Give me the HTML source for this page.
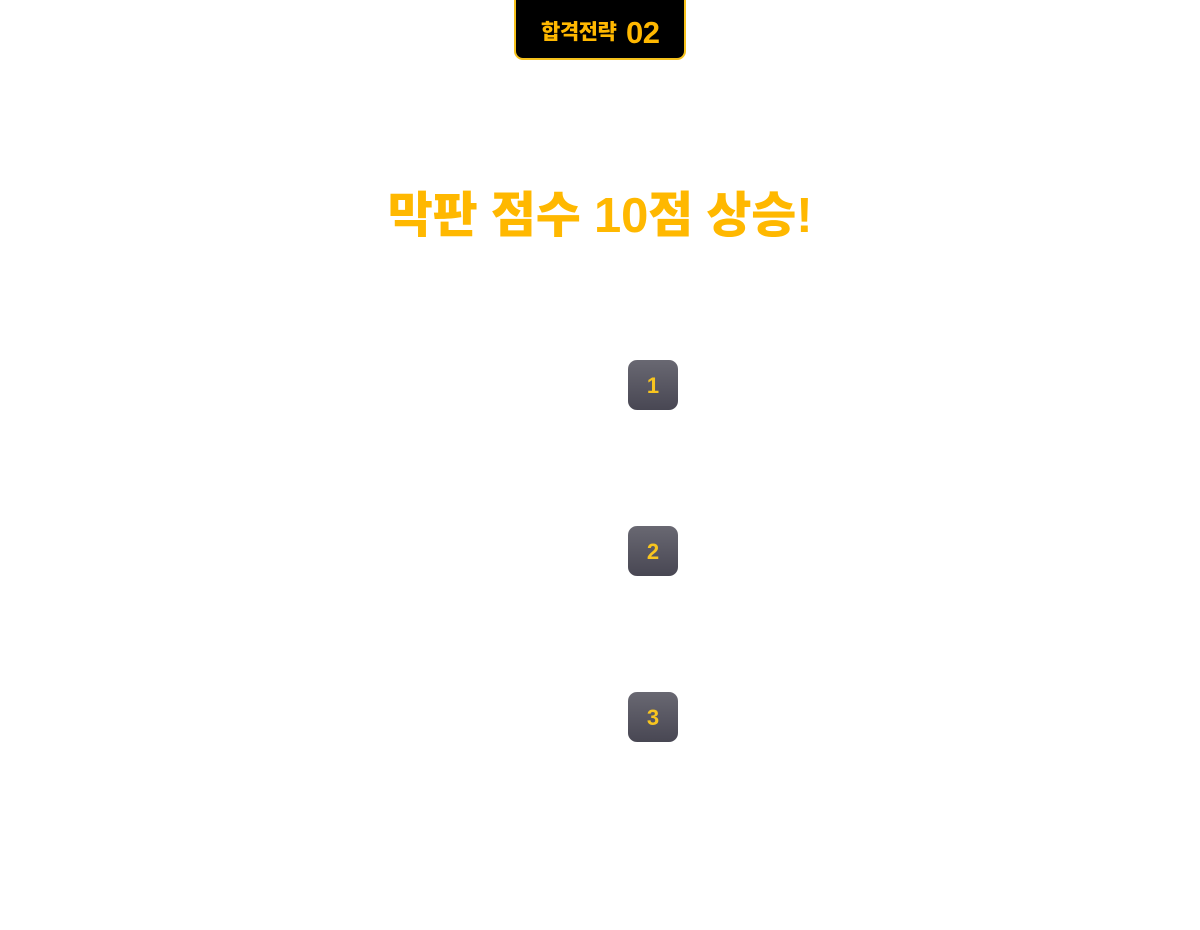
<!DOCTYPE html>
<html><head><meta charset="utf-8"><style>
html,body{margin:0;padding:0;background:#fff;}
body{width:1200px;height:930px;position:relative;overflow:hidden;font-family:"Liberation Sans","Noto Sans CJK KR",sans-serif;}
.badge{position:absolute;left:514px;top:-12px;width:168px;height:68px;background:#000;border:2px solid #f5c11d;border-radius:9px;box-sizing:content-box;}
.badge .t{position:absolute;left:25px;top:30px;color:#ffb800;font-weight:900;font-size:21px;line-height:26px;white-space:nowrap;letter-spacing:-0.5px;}
.badge .n{position:absolute;left:110px;top:26px;color:#ffb800;font-weight:bold;font-size:31px;line-height:34px;letter-spacing:-0.5px;}
.title{position:absolute;left:0;top:184px;width:1200px;text-align:center;color:#ffb800;font-weight:900;font-size:49px;line-height:64px;white-space:nowrap;letter-spacing:-0.2px;}
.num{position:absolute;left:628px;width:50px;height:50px;border-radius:9px;background:linear-gradient(#696872,#484753);color:#f8c51f;font-weight:bold;font-size:22px;line-height:51px;text-align:center;}
</style></head><body>
<div class="badge"><span class="t">합격전략</span><span class="n">02</span></div>
<div class="title">막판 점수 10점 상승!</div>
<div class="num" style="top:360px">1</div>
<div class="num" style="top:526px">2</div>
<div class="num" style="top:692px">3</div>
</body></html>
